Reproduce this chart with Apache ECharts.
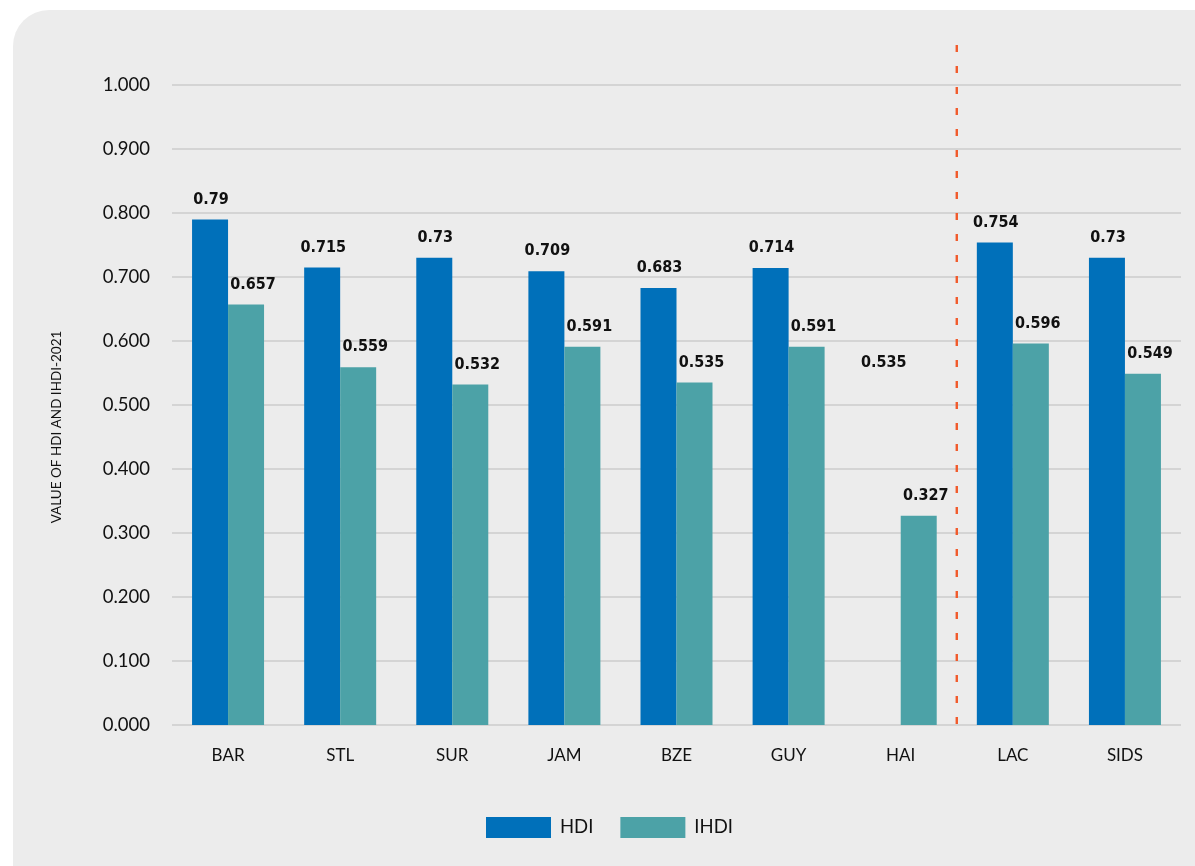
<!DOCTYPE html>
<html>
<head>
<meta charset="utf-8">
<style>
  html, body { margin: 0; padding: 0; background: #ffffff; }
  #chart { width: 1195px; height: 866px; }
</style>
<script src="https://cdn.jsdelivr.net/npm/echarts@6/dist/echarts.min.js"></script>
</head>
<body>
<div id="chart"></div>
<script>
// Country / group codes along the x axis
const categories = ['BAR', 'STL', 'SUR', 'JAM', 'BZE', 'GUY', 'HAI', 'LAC', 'SIDS'];
// Human Development Index, 2021
const hdiValues = [0.79, 0.715, 0.73, 0.709, 0.683, 0.714, 0.535, 0.754, 0.73];
// Inequality-adjusted HDI, 2021
const ihdiValues = [0.657, 0.559, 0.532, 0.591, 0.535, 0.591, 0.327, 0.596, 0.549];
// Y axis ticks
const yTicks = [0, 0.1, 0.2, 0.3, 0.4, 0.5, 0.6, 0.7, 0.8, 0.9, 1.0];
// Separator between countries and regional aggregates (category boundary index)
const separatorAt = 7;
// Category whose HDI bar is not filled (label only)
const hiddenHdiBar = 'HAI';
const yTitle = 'VALUE OF HDI AND IHDI-2021';

const HDI_COLOR = '#0070ba';
const IHDI_COLOR = '#4ca2a7';
const labelFont = {
  fontFamily: '"DejaVu Sans Condensed", "DejaVu Sans", sans-serif',
  fontWeight: 'bold',
  fontSize: 16,
  color: '#111111'
};

const chart = echarts.init(document.getElementById('chart'));

chart.setOption({
  animation: false,
  textStyle: { fontFamily: 'Lato, sans-serif' },
  graphic: [{
    type: 'rect',
    z: -10,
    shape: { x: 13, y: 10, width: 1200, height: 900, r: [36, 18, 0, 0] },
    style: { fill: '#ececec' }
  }, {
    type: 'text',
    x: 57,
    y: 427,
    rotation: Math.PI / 2,
    style: {
      text: yTitle,
      fill: '#111',
      fontSize: 13.5,
      fontFamily: 'Lato, sans-serif',
      align: 'center',
      verticalAlign: 'middle'
    }
  }],
  grid: { left: 172, right: 14, top: 85, bottom: 141 },
  legend: {
    bottom: 23,
    left: 481,
    itemWidth: 65,
    itemHeight: 21,
    itemGap: 27,
    icon: 'rect',
    textStyle: { fontSize: 18.5, color: '#111', fontFamily: 'Lato, sans-serif', padding: [0, 0, 0, 4] },
    data: ['HDI', 'IHDI']
  },
  xAxis: [{
    type: 'category',
    data: categories,
    axisLine: { show: false },
    axisTick: { show: false },
    axisLabel: { margin: 22, fontSize: 17, color: '#111' }
  }, {
    type: 'value',
    min: 0,
    max: categories.length,
    show: false
  }],
  yAxis: {
    type: 'value',
    min: 0,
    max: 1,
    interval: 0.1,
    axisLine: { show: false },
    axisTick: { show: false },
    splitLine: { lineStyle: { color: '#cdcdcd', width: 1.5 } },
    axisLabel: {
      margin: 22,
      fontSize: 18.5,
      color: '#111',
      formatter: v => yTicks.some(t => Math.abs(t - v) < 1e-9) ? v.toFixed(3) : ''
    }
  },
  series: [{
    name: 'HDI',
    type: 'bar',
    barWidth: 36,
    barGap: '0%',
    itemStyle: { color: HDI_COLOR },
    data: hdiValues.map((v, i) => categories[i] === hiddenHdiBar
      ? { value: v, itemStyle: { color: 'rgba(0,0,0,0)' } }
      : v),
    label: {
      show: true,
      position: 'top',
      distance: 12,
      offset: [1, 0],
      formatter: p => String(p.value),
      ...labelFont
    }
  }, {
    name: 'IHDI',
    type: 'bar',
    barWidth: 36,
    itemStyle: { color: IHDI_COLOR },
    data: ihdiValues,
    label: {
      show: true,
      position: 'top',
      distance: 12,
      offset: [7, 0],
      formatter: p => String(p.value),
      ...labelFont
    }
  }, {
    type: 'line',
    xAxisIndex: 1,
    clip: false,
    silent: true,
    symbol: 'none',
    legendHoverLink: false,
    lineStyle: { color: '#f15a2b', width: 2.4, type: [7, 14] },
    data: [[separatorAt, 1.0625], [separatorAt, 0.0]],
    tooltip: { show: false }
  }]
});
</script>
</body>
</html>
